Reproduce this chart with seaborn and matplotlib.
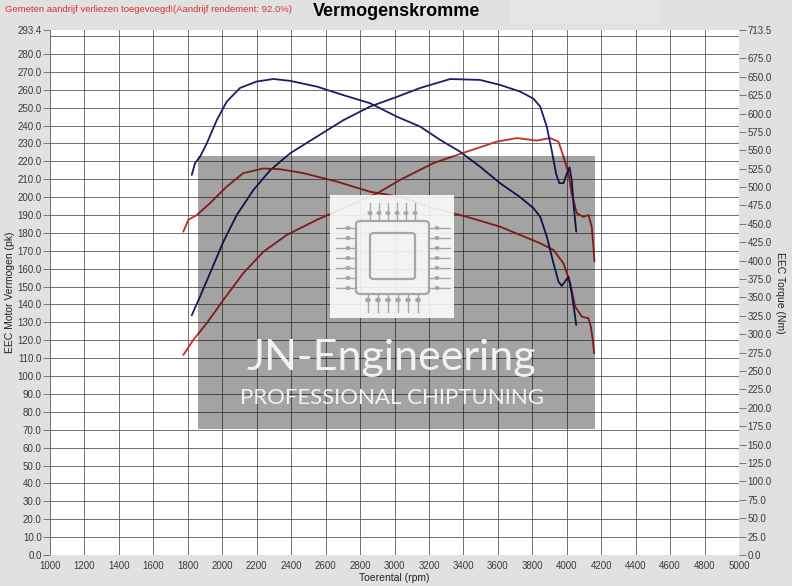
import matplotlib
matplotlib.use("Agg")
import matplotlib.pyplot as plt
from matplotlib.patches import Rectangle, FancyBboxPatch, Circle
from matplotlib.lines import Line2D
import seaborn as sns
import pandas as pd

# tuned curves (blue)
rpm_tuned_pk = [1823, 1871, 1929, 2006, 2084, 2181, 2278, 2394, 2549, 2703, 2858, 3013, 3149,
                3323, 3497, 3613, 3729, 3807, 3846, 3884, 3913, 3938, 3957, 3981, 4000, 4016,
                4029, 4039, 4055]
tuned_pk = [134.0, 144.4, 157.5, 175.0, 190.0, 204.0, 215.0, 224.5, 233.8, 243.0, 250.6, 256.0, 261.0,
            266.0, 265.5, 262.7, 259.0, 255.0, 250.6, 239.4, 226.0, 213.0, 207.8, 207.8, 213.0, 216.7,
            209.6, 196.6, 180.7]
rpm_tuned_nm = [1823, 1842, 1871, 1910, 1968, 2026, 2103, 2200, 2297, 2394, 2549, 2703, 2858, 3013,
                3149, 3265, 3381, 3497, 3613, 3729, 3807, 3846, 3884, 3923, 3952, 3971, 3990, 4010,
                4029, 4043, 4055]
tuned_nm = [516.5, 532.6, 541.3, 559.3, 590.9, 616.2, 634.7, 643.5, 646.9, 644.4, 636.6, 625.0, 614.0, 595.8,
            582.2, 564.2, 548.1, 527.7, 505.3, 486.4, 471.3, 459.6, 432.9, 396.4, 371.6, 365.7, 371.6, 378.4,
            355.0, 333.2, 312.7]

# stock curves (red)
rpm_stock_pk = [1774, 1832, 1910, 2006, 2122, 2239, 2375, 2549, 2723, 2897, 3040, 3226, 3420, 3594,
                3710, 3826, 3903, 3952, 3981, 4010, 4029, 4058, 4097, 4126, 4145, 4155, 4161]
stock_pk = [111.8, 120.2, 129.5, 142.5, 157.5, 169.5, 178.9, 187.3, 194.7, 202.0, 210.0, 219.0, 225.4, 231.0,
            233.0, 231.6, 233.0, 231.0, 222.6, 213.4, 202.0, 191.0, 189.0, 190.0, 183.5, 172.3, 164.0]
rpm_stock_nm = [1774, 1803, 1852, 1929, 2026, 2122, 2239, 2336, 2471, 2665, 2858, 3040, 3226, 3420,
                3613, 3729, 3846, 3923, 3981, 4020, 4049, 4088, 4126, 4140, 4151, 4159]
stock_nm = [439.4, 455.5, 462.0, 478.1, 500.7, 519.0, 525.3, 524.3, 519.0, 507.5, 493.7, 486.4, 471.3, 459.6,
            446.2, 435.0, 423.6, 414.6, 396.4, 369.4, 337.5, 323.9, 321.7, 310.3, 292.3, 274.1]

pk_max = 293.4
nm_max = 713.5
pk_ticks = [i * 10.0 for i in range(29)] + [pk_max]
nm_ticks = [i * 25.0 for i in range(28)] + [nm_max]
rpm_ticks = list(range(1000, 5001, 200))

title = "Vermogenskromme"
note = "Gemeten aandrijf verliezen toegevoegd!(Aandrijf rendement: 92.0%)"

sns.set_theme(style="white")
plt.rcParams['font.family'] = ['Liberation Sans', 'DejaVu Sans']

BLUE = "#1b1d6c"
RED = "#c82a2a"
GRID = "#585858"
W, H = 792, 586

fig = plt.figure(figsize=(7.92, 5.86), dpi=100)
fig.patch.set_facecolor("#e1e1e1")
ax = fig.add_axes([50 / W, 1 - 555 / H, 689 / W, 525 / H])
ax.set_facecolor("white")

df_tp = pd.DataFrame({"rpm": rpm_tuned_pk, "val": tuned_pk})
df_sp = pd.DataFrame({"rpm": rpm_stock_pk, "val": stock_pk})
df_tn = pd.DataFrame({"rpm": rpm_tuned_nm, "val": tuned_nm})
df_sn = pd.DataFrame({"rpm": rpm_stock_nm, "val": stock_nm})

sns.lineplot(data=df_sp, x="rpm", y="val", ax=ax, color=RED, lw=1.3, sort=False, estimator=None, zorder=3)
sns.lineplot(data=df_tp, x="rpm", y="val", ax=ax, color=BLUE, lw=1.3, sort=False, estimator=None, zorder=3)

ax.set_xlim(1000, 5000)
ax.set_ylim(0, pk_max)
ax.set_xticks(rpm_ticks)
ax.set_xticklabels([str(t) for t in rpm_ticks])
ax.set_yticks(pk_ticks)
ax.set_yticklabels([f"{t:.1f}" for t in pk_ticks])
for s in ax.spines.values():
    s.set_visible(False)

# grid every 10 pk and 200 rpm
for t in range(0, 291, 10):
    ax.axhline(t, color=GRID, lw=0.6, zorder=1)
for t in rpm_ticks:
    ax.axvline(t, color=GRID, lw=0.6, zorder=1)

ax.tick_params(axis="y", which="both", length=5, width=0.7, color="#777777",
               labelsize=7, labelcolor="#3a3a3a", pad=1, left=True)
ax.tick_params(axis="x", length=0, labelsize=7, labelcolor="#3a3a3a", pad=4)
ax.set_xlabel("Toerental (rpm)", fontsize=7.5, color="#222222", labelpad=2)
ax.set_ylabel("EEC Motor Vermogen (pk)", fontsize=7.5, color="#222222", labelpad=2)

ax2 = ax.twinx()
sns.lineplot(data=df_sn, x="rpm", y="val", ax=ax2, color=RED, lw=1.3, sort=False, estimator=None, zorder=3)
sns.lineplot(data=df_tn, x="rpm", y="val", ax=ax2, color=BLUE, lw=1.3, sort=False, estimator=None, zorder=3)
ax2.set_ylim(0, nm_max)
ax2.set_yticks(nm_ticks)
ax2.set_yticklabels([f"{t:.1f}" for t in nm_ticks])
for s in ax2.spines.values():
    s.set_visible(False)
ax2.tick_params(axis="y", length=5, width=0.7, color="#777777", labelsize=7,
                labelcolor="#3a3a3a", pad=1, right=True)
ax2.set_ylabel("EEC Torque (Nm)", fontsize=7.5, color="#222222", rotation=270, labelpad=10)
ax2.grid(False)


def fx(px):
    return px / W


def fy(py):
    return 1 - py / H


# header
fig.add_artist(Rectangle((fx(510), fy(24)), 150 / W, 24 / H, transform=fig.transFigure,
                         facecolor="#e7e4e6", edgecolor="none", zorder=0.5))
fig.text(fx(5), fy(9), note, color="#d83232", fontsize=6.8, va="center", ha="left")
fig.text(fx(397), fy(12), title, color="black", fontsize=13, fontweight="bold", va="center", ha="center")

# watermark
fig.add_artist(Rectangle((fx(198), fy(429)), 397 / W, 273 / H, transform=fig.transFigure,
                         facecolor="black", alpha=0.36, edgecolor="none", zorder=5))
fig.add_artist(Rectangle((fx(330), fy(318)), 124 / W, 123 / H, transform=fig.transFigure,
                         facecolor="white", alpha=0.88, edgecolor="none", zorder=6))
chip_col = "#a6a6a6"
fig.add_artist(FancyBboxPatch((fx(356), fy(294)), 73 / W, 73 / H, transform=fig.transFigure,
                              boxstyle="round,pad=0,rounding_size=0.006", facecolor="none",
                              edgecolor=chip_col, lw=1.6, zorder=7))
fig.add_artist(FancyBboxPatch((fx(370), fy(279)), 45 / W, 46 / H, transform=fig.transFigure,
                              boxstyle="round,pad=0,rounding_size=0.005", facecolor="none",
                              edgecolor=chip_col, lw=1.6, zorder=7))
for i in range(6):
    x = 370 + i * 9
    fig.add_artist(Line2D([fx(x), fx(x)], [fy(221), fy(203)], transform=fig.transFigure,
                          color=chip_col, lw=1.0, zorder=7))
    fig.add_artist(Circle((fx(x), fy(213)), 1.8 / W, transform=fig.transFigure,
                          color=chip_col, zorder=7))
    x = 368 + i * 10
    fig.add_artist(Line2D([fx(x), fx(x)], [fy(294), fy(312)], transform=fig.transFigure,
                          color=chip_col, lw=1.0, zorder=7))
    fig.add_artist(Circle((fx(x), fy(300)), 2.2 / W, transform=fig.transFigure,
                          color=chip_col, zorder=7))
for i in range(7):
    y = 228 + i * 10
    fig.add_artist(Line2D([fx(336), fx(356)], [fy(y), fy(y)], transform=fig.transFigure,
                          color=chip_col, lw=1.0, zorder=7))
    fig.add_artist(Circle((fx(348), fy(y)), 1.8 / W, transform=fig.transFigure,
                          color=chip_col, zorder=7))
    fig.add_artist(Line2D([fx(429), fx(450)], [fy(y), fy(y)], transform=fig.transFigure,
                          color=chip_col, lw=1.0, zorder=7))
    fig.add_artist(Circle((fx(437), fy(y)), 1.8 / W, transform=fig.transFigure,
                          color=chip_col, zorder=7))

fig.text(fx(391), fy(358), "JN-Engineering", color="#f2f2f2", fontsize=31, family=["Lato", "DejaVu Sans"],
         ha="center", va="center", zorder=8)
fig.text(fx(392), fy(398), "PROFESSIONAL CHIPTUNING", color="#f2f2f2", fontsize=16,
         family=["Lato", "DejaVu Sans"], ha="center", va="center", zorder=8)

fig.savefig("out.png", dpi=100, facecolor=fig.get_facecolor())
